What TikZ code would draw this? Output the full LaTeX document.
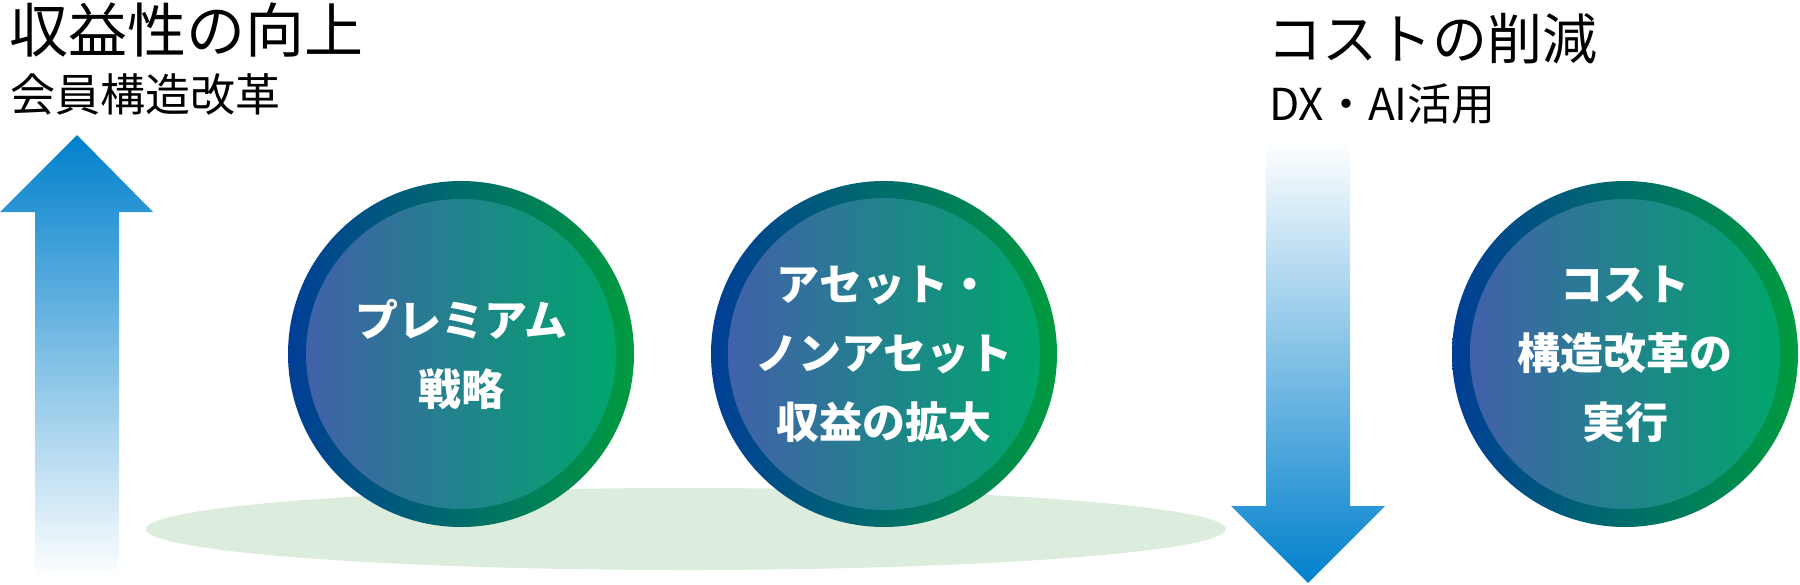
\documentclass[tikz,border=0pt]{standalone}
\usepackage{fontspec}
\setmainfont{Noto Sans CJK JP}
\definecolor{ringleft}{RGB}{0,62,150}
\definecolor{ringright}{RGB}{0,155,62}
\definecolor{coreleft}{RGB}{66,96,170}
\definecolor{coreright}{RGB}{0,166,108}
\definecolor{arrowblue}{RGB}{0,128,204}
\definecolor{groundgreen}{RGB}{221,237,221}
\newcommand{\ball}[3]{
   \node[ring] (#1) at (#2) {};
   \node[core] (#1text) at (#1) {#3};
}
\begin{document}
\begin{tikzpicture}[x=0.5pt, y=-0.5pt,
	ring/.style={circle, inner sep=0pt, minimum size=173pt, left color=ringleft, right color=ringright},
	core/.style={circle, inner sep=0pt, minimum size=155pt, left color=coreleft, right color=coreright,
		text=white, align=center, font=\bfseries\fontsize{21.5}{34.5}\selectfont},
	headline/.style={anchor=west, inner sep=0pt, font=\fontsize{29.5}{35}\selectfont},
	subline/.style={anchor=west, inner sep=0pt, font=\fontsize{22.5}{27}\selectfont}]

		\useasboundingbox (0,0) rectangle (1800,584);

		% Headings
		\node[headline] (up) at (9,30) {収益性の向上};
		\node[subline] (upsub) at (10,94) {会員構造改革};
		\node[headline, font=\fontsize{27.5}{33}\selectfont] (down) at (1267,39) {コストの削減};
		\node[subline, font=\fontsize{22}{27}\selectfont] (downsub) at (1269,104) {DX・AI活用};

		% Arrows
		\shade[top color=arrowblue, bottom color=white] (77,135) -- (153,212) -- (119,212) -- (119,578)
			-- (35,578) -- (35,212) -- (0,212) -- cycle;
		\shade[top color=white, bottom color=arrowblue] (1266,140) -- (1350,140) -- (1350,506) -- (1385,506)
			-- (1308,583) -- (1231,506) -- (1266,506) -- cycle;

		% Ground
		\fill[groundgreen] (686,529) ellipse [x radius=540, y radius=41];

		% Circles
		\ball{premium}{461,354}{プレミアム\\戦略}
		\ball{asset}{884,354}{アセット・\\ノンアセット\\収益の拡大}
		\ball{cost}{1625,354}{コスト\\構造改革の\\実行}
	\end{tikzpicture}
\end{document}
